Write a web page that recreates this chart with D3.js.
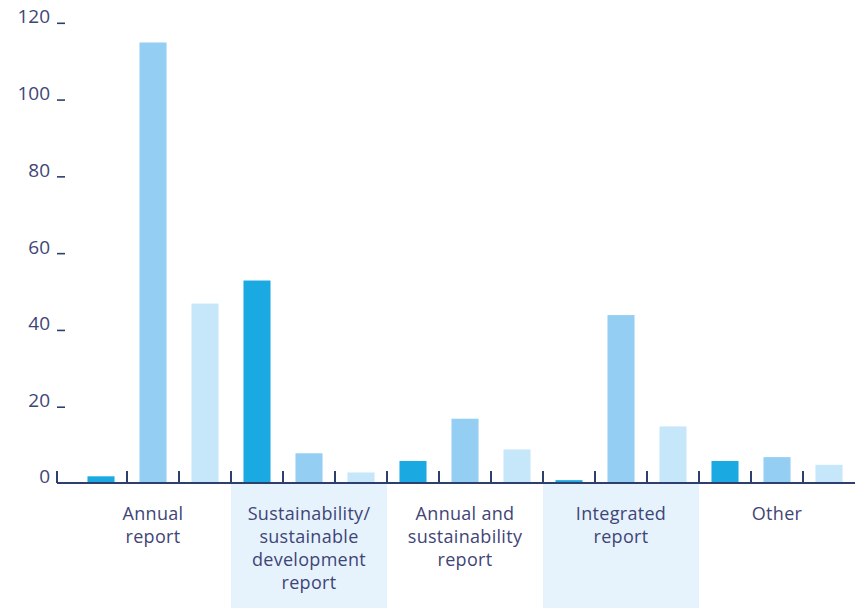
<!DOCTYPE html>
<html>
<head>
<meta charset="utf-8">
<script src="https://cdn.jsdelivr.net/npm/d3@7/dist/d3.min.js"></script>
<style>
  html, body { margin: 0; padding: 0; background: #ffffff; }
  svg { display: block; }
  text { font-family: "Open Sans", "Noto Sans", sans-serif; fill: #3f4577; }
</style>
</head>
<body>
<svg id="chart" width="866" height="608"></svg>
<script>
// Report types (each label split into its printed lines)
const categories = [
  ["Annual", "report"],
  ["Sustainability/", "sustainable", "development", "report"],
  ["Annual and", "sustainability", "report"],
  ["Integrated", "report"],
  ["Other"]
];
const shadedGroups = [1, 3];
const seriesNames = ["s1", "s2", "s3"];
const series1 = [2, 53, 6, 1, 6];
const series2 = [115, 8, 17, 44, 7];
const series3 = [47, 3, 9, 15, 5];
const seriesColors = ["#1ba9e1", "#94cef2", "#c6e6f9"];
const yTicks = [0, 20, 40, 60, 80, 100, 120];

const svg = d3.select("#chart");
const W = 866, H = 608;
const axisX0 = 57, plotLeft = 75, plotRight = 855;
const yTop = 23.3, yBase = 484;

const x = d3.scaleBand()
  .domain(d3.range(categories.length))
  .range([plotLeft, plotRight])
  .padding(0);

const xs = d3.scaleBand()
  .domain(seriesNames)
  .range([0, x.bandwidth()])
  .paddingInner(0.48)
  .paddingOuter(0.24);

const y = d3.scaleLinear().domain([0, 120]).range([yBase, yTop]);

const axisColor = "#2c3f6d";

// shaded label bands under alternate groups
svg.append("g").selectAll("rect")
  .data(shadedGroups)
  .join("rect")
  .attr("x", d => x(d))
  .attr("y", yBase)
  .attr("width", x.bandwidth())
  .attr("height", H - yBase)
  .attr("fill", "#e6f3fc");

// bars
const rows = categories.map((c, i) => [series1[i], series2[i], series3[i]]);
const groups = svg.append("g").selectAll("g")
  .data(rows)
  .join("g")
  .attr("transform", (d, i) => `translate(${x(i)},0)`);

groups.selectAll("rect")
  .data(d => d.map((v, j) => ({ key: seriesNames[j], v, j })))
  .join("rect")
  .attr("x", d => xs(d.key))
  .attr("y", d => y(d.v))
  .attr("width", xs.bandwidth())
  .attr("height", d => y(0) - y(d.v))
  .attr("fill", d => seriesColors[d.j]);

// y ticks and labels
const yg = svg.append("g");
yg.selectAll("line")
  .data(yTicks.filter(t => t > 0))
  .join("line")
  .attr("x1", axisX0).attr("x2", axisX0 + 8)
  .attr("y1", d => y(d)).attr("y2", d => y(d))
  .attr("stroke", axisColor).attr("stroke-width", 1.6);
yg.selectAll("text")
  .data(yTicks)
  .join("text")
  .attr("x", 50)
  .attr("y", d => y(d) - (d === 0 ? 1 : 0))
  .attr("text-anchor", "end")
  .attr("font-size", 19)
  .text(d => d);

// baseline and slot ticks
svg.append("line")
  .attr("x1", axisX0).attr("x2", plotRight)
  .attr("y1", yBase - 1).attr("y2", yBase - 1)
  .attr("stroke", axisColor).attr("stroke-width", 2);

const slotEdges = [];
categories.forEach((c, i) => {
  seriesNames.forEach((s, j) => {
    const edge = x(i) + j * xs.step();
    slotEdges.push(i === 0 && j === 0 ? axisX0 : edge);
  });
});
svg.append("g").selectAll("line")
  .data(slotEdges)
  .join("line")
  .attr("x1", d => d).attr("x2", d => d)
  .attr("y1", yBase - 13).attr("y2", yBase - 1)
  .attr("stroke", axisColor).attr("stroke-width", 2);

// category labels
const lab = svg.append("g").selectAll("text")
  .data(categories)
  .join("text")
  .attr("x", (d, i) => x(i) + x.bandwidth() / 2)
  .attr("y", 520)
  .attr("text-anchor", "middle")
  .attr("font-size", 18)
  .attr("letter-spacing", 0.3);
lab.selectAll("tspan")
  .data(d => d)
  .join("tspan")
  .attr("x", function () { return d3.select(this.parentNode).attr("x"); })
  .attr("dy", (d, k) => k === 0 ? 0 : 23)
  .text(d => d);
</script>
</body>
</html>
